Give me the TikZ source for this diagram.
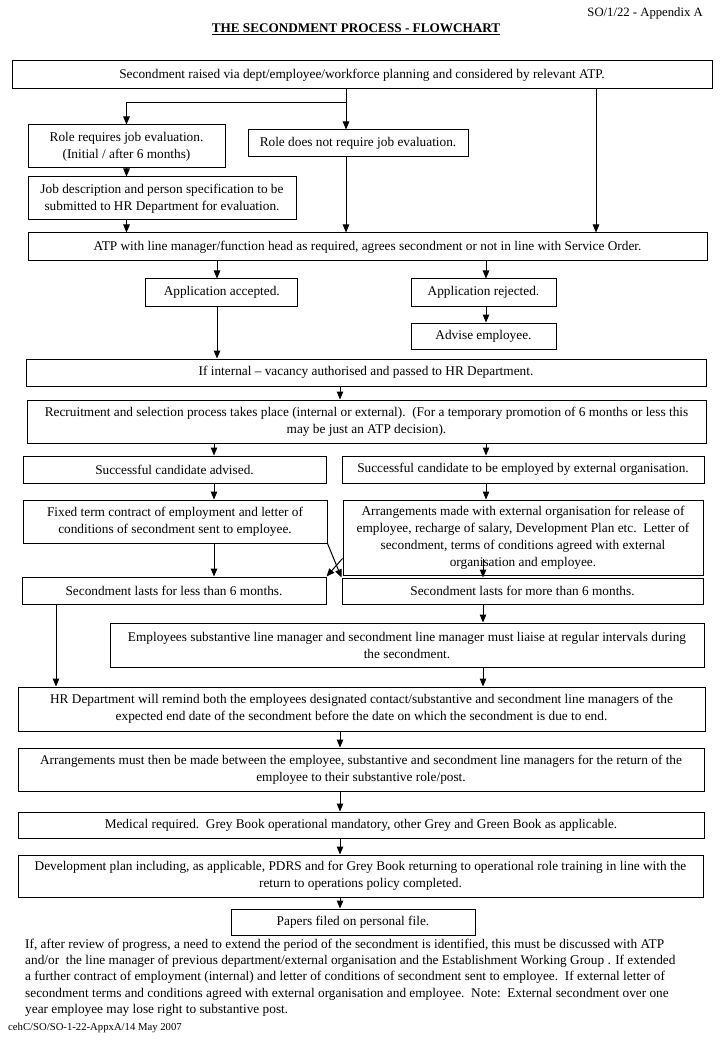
\documentclass[tikz,border=0pt]{standalone}
\usepackage{fontspec}
\setmainfont{Liberation Serif}
\usetikzlibrary{arrows.meta,calc}
\begin{document}
\begin{tikzpicture}[x=1pt,y=-1pt,
  bx/.style={draw, line width=1pt, inner sep=2pt, align=center, font=\fontsize{13.3}{17}\selectfont},
  arr/.style={line width=1pt, -{Triangle[length=8pt,width=6.5pt]}},
  txt/.style={inner sep=0pt, font=\fontsize{13.3}{16.4}\selectfont}]
\useasboundingbox (0,0) rectangle (720,1040);
% header
\node[inner sep=0pt, anchor=east, font=\fontsize{12.7}{15}\selectfont] (hdr) at (703,13) {SO/1/22 - Appendix A};
\node[inner sep=0pt, font=\fontsize{13.2}{16}\selectfont] (title) at (356,29) {\textbf{\underline{THE SECONDMENT PROCESS - FLOWCHART}}};
% boxes
\node[bx, minimum width=700pt, minimum height=28pt] (b1) at (362,75) {Secondment raised via dept/employee/workforce planning and considered by relevant ATP.};
\node[bx, minimum width=197pt, minimum height=43pt] (req) at (126.5,146.5) {Role requires job evaluation.\\(Initial / after 6 months)};
\node[bx, minimum width=220pt, minimum height=27pt] (noreq) at (358,143.5) {Role does not require job evaluation.};
\node[bx, minimum width=268pt, minimum height=43pt] (jd) at (162,198.5) {Job description and person specification to be\\submitted to HR Department for evaluation.};
\node[bx, minimum width=679pt, minimum height=28pt] (atp) at (367.5,247) {ATP with line manager/function head as required, agrees secondment or not in line with Service Order.};
\node[bx, minimum width=152pt, minimum height=27pt] (acc) at (221.75,292.5) {Application accepted.};
\node[bx, minimum width=145pt, minimum height=27pt] (rej) at (483.5,292.5) {Application rejected.};
\node[bx, minimum width=145pt, minimum height=26pt] (adv) at (483.5,336) {Advise employee.};
\node[bx, minimum width=680pt, minimum height=27pt] (int) at (366,372.5) {If internal -- vacancy authorised and passed to HR Department.};
\node[bx, minimum width=679pt, minimum height=43pt] (rec) at (366.5,421.5) {Recruitment and selection process takes place (internal or external).\ \ (For a temporary promotion of 6 months or less this\\may be just an ATP decision).};
\node[bx, minimum width=303pt, minimum height=27pt] (sca) at (174.5,469.5) {Successful candidate advised.};
\node[bx, minimum width=362pt, minimum height=27pt] (sce) at (523,469.5) {Successful candidate to be employed by external organisation.};
\node[bx, minimum width=304pt, minimum height=43pt] (fix) at (175,521.5) {Fixed term contract of employment and letter of\\conditions of secondment sent to employee.};
\node[bx, minimum width=360pt, minimum height=75pt] (arng) at (523,537.5) {Arrangements made with external organisation for release of\\employee, recharge of salary, Development Plan etc.\ \ Letter of\\secondment, terms of conditions agreed with external\\organisation and employee.};
\node[bx, minimum width=304pt, minimum height=27pt] (less) at (174,590.5) {Secondment lasts for less than 6 months.};
\node[bx, minimum width=361pt, minimum height=26pt] (more) at (522.5,591) {Secondment lasts for more than 6 months.};
\node[bx, minimum width=594pt, minimum height=44pt] (emp) at (407,645) {Employees substantive line manager and secondment line manager must liaise at regular intervals during\\the secondment.};
\node[bx, minimum width=687pt, minimum height=44pt] (hr) at (361.5,709) {HR Department will remind both the employees designated contact/substantive and secondment line managers of the\\expected end date of the secondment before the date on which the secondment is due to end.};
\node[bx, minimum width=686pt, minimum height=43pt] (ret) at (361,769.5) {Arrangements must then be made between the employee, substantive and secondment line managers for the return of the\\employee to their substantive role/post.};
\node[bx, minimum width=686pt, minimum height=26pt] (med) at (361,825) {Medical required.\ \ Grey Book operational mandatory, other Grey and Green Book as applicable.};
\node[bx, minimum width=685pt, minimum height=42pt] (dev) at (360.5,876) {Development plan including, as applicable, PDRS and for Grey Book returning to operational role training in line with the\\return to operations policy completed.};
\node[bx, minimum width=244pt, minimum height=26pt] (pap) at (353,922) {Papers filed on personal file.};
% note
\node[txt, anchor=north west, align=left] (note) at (25,938.5) {If, after review of progress, a need to extend the period of the secondment is identified, this must be discussed with ATP\\and/or\ \ the line manager of previous department/external organisation and the Establishment Working Group . If extended\\a further contract of employment (internal) and letter of conditions of secondment sent to employee.\ \ If external letter of\\secondment terms and conditions agreed with external organisation and employee.\ \ Note:\ \ External secondment over one\\year employee may lose right to substantive post.};
\node[inner sep=0pt, anchor=west, font=\fontsize{10.7}{12}\selectfont] (foot) at (8,1028) {cehC/SO/SO-1-22-AppxA/14 May 2007};
% column coordinates
\coordinate (j1) at (346,103);
\coordinate (xR) at (596,0);
\coordinate (xA) at (217,0);
\coordinate (xB) at (486,0);
\coordinate (xC) at (214,0);
\coordinate (xM) at (483,0);
\coordinate (xI) at (340,0);
\coordinate (xL) at (56,0);
% connectors
\draw[arr] (b1.south -| j1) -- (j1) -| (req.north);
\draw[arr] (j1) -- (noreq.north -| j1);
\draw[arr] (b1.south -| xR) -- (atp.north -| xR);
\draw[arr] (req.south) -- (jd.north -| req.south);
\draw[arr] (jd.south -| req.south) -- (atp.north -| req.south);
\draw[arr] (noreq.south -| j1) -- (atp.north -| j1);
\draw[arr] (atp.south -| xA) -- (acc.north -| xA);
\draw[arr] (atp.south -| xB) -- (rej.north -| xB);
\draw[arr] (rej.south -| xB) -- (adv.north -| xB);
\draw[arr] (acc.south -| xA) -- (int.north -| xA);
\draw[arr] (int.south -| xI) -- (rec.north -| xI);
\draw[arr] (rec.south -| xC) -- (sca.north -| xC);
\draw[arr] (rec.south -| xB) -- (sce.north -| xB);
\draw[arr] (sca.south -| xC) -- (fix.north -| xC);
\draw[arr] (sce.south -| xB) -- (arng.north -| xB);
\draw[arr] (fix.south -| xC) -- (less.north -| xC);
\draw[arr] (fix.south east) -- (more.north west);
\draw[arr] ($(arng.south west)+(0,-17)$) -- (less.north east);
\draw[arr] ($(arng.south -| xM)+(0,-17)$) -- (more.north -| xM);
\draw[arr] (more.south -| xM) -- (emp.north -| xM);
\draw[arr] (less.south -| xL) -- (hr.north -| xL);
\draw[arr] (emp.south -| xM) -- (hr.north -| xM);
\draw[arr] (hr.south -| xI) -- (ret.north -| xI);
\draw[arr] (ret.south -| xI) -- (med.north -| xI);
\draw[arr] (med.south -| xI) -- (dev.north -| xI);
\draw[arr] (dev.south -| xI) -- (pap.north -| xI);
\end{tikzpicture}
\end{document}
